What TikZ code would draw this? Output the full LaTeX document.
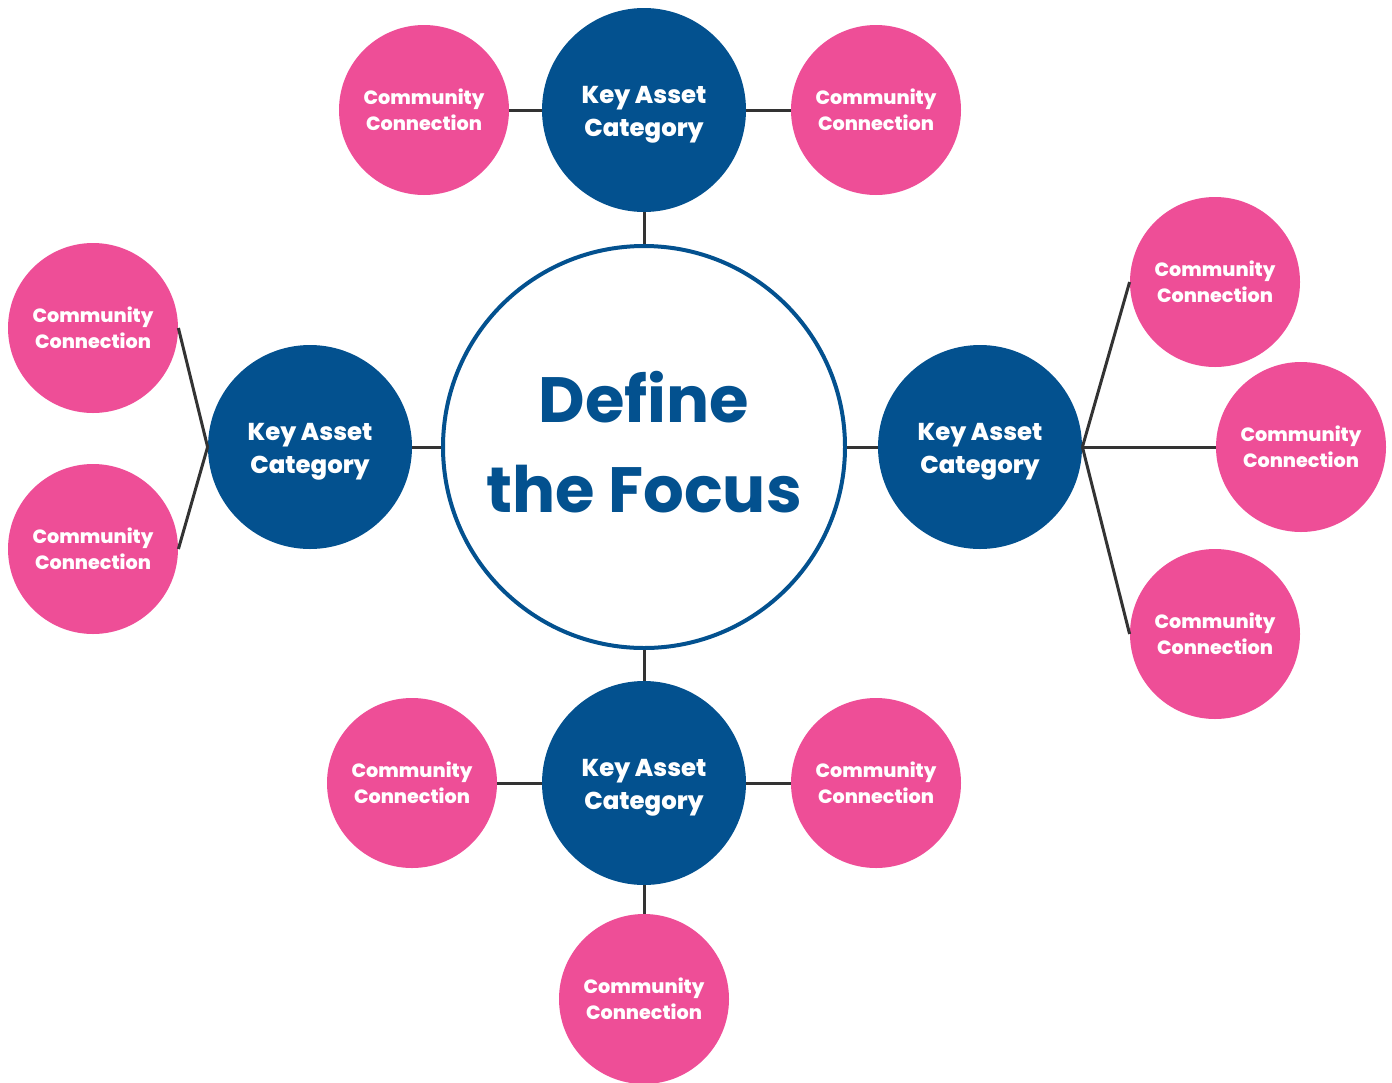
\documentclass[tikz,border=0pt]{standalone}
\usepackage{fontspec}
\setmainfont{Poppins}
\newfontfamily\heavy{Poppins ExtraBold}
\definecolor{pinkc}{HTML}{EE4E97}
\definecolor{bluec}{HTML}{03518F}
\definecolor{linec}{HTML}{333333}
\begin{document}
\begin{tikzpicture}[x=0.5pt,y=-0.5pt,
  keyc/.style={circle,fill=bluec,minimum size=102pt,inner sep=0pt,text=white,align=center,
    font=\heavy\fontsize{12.2}{16.5}\selectfont},
  comm/.style={circle,fill=pinkc,minimum size=85pt,inner sep=0pt,text=white,align=center,
    font=\heavy\fontsize{9.6}{13}\selectfont},
  focus/.style={circle,draw=bluec,line width=2pt,fill=white,minimum size=201pt,inner sep=0pt,
    text=bluec,align=center,font=\bfseries\fontsize{32}{45}\selectfont},
  conn/.style={draw=linec,line width=1.5pt}]
\useasboundingbox (0,0) rectangle (1392,1082);
% nodes
\node[focus] (F) at (644,447) {Define\\the Focus\rule[-5pt]{0pt}{0pt}};
\node[keyc] (KT) at (644,110) {\rule{0pt}{13pt}Key Asset\\Category};
\node[keyc] (KL) at (310,447) {\rule{0pt}{13pt}Key Asset\\Category};
\node[keyc] (KR) at (980,447) {\rule{0pt}{13pt}Key Asset\\Category};
\node[keyc] (KB) at (644,783) {\rule{0pt}{13pt}Key Asset\\Category};
\node[comm] (TL) at (424,110) {Community\\Connection};
\node[comm] (TR) at (876,110) {Community\\Connection};
\node[comm] (LU) at (93,328) {Community\\Connection};
\node[comm] (LD) at (93,549) {Community\\Connection};
\node[comm] (RU) at (1215,282) {Community\\Connection};
\node[comm] (RM) at (1301,447) {Community\\Connection};
\node[comm] (RD) at (1215,634) {Community\\Connection};
\node[comm] (BL) at (412,783) {Community\\Connection};
\node[comm] (BR) at (876,783) {Community\\Connection};
\node[comm] (BB) at (644,999) {Community\\Connection};
% connectors
\draw[conn] (TL.east) -- (KT.west);
\draw[conn] (KT.east) -- (TR.west);
\draw[conn] (KT.south) -- (F.north);
\draw[conn] (LU.east) -- (KL.west);
\draw[conn] (LD.east) -- (KL.west);
\draw[conn] (KL.east) -- (F.west);
\draw[conn] (F.east) -- (KR.west);
\draw[conn] (KR.east) -- (RU.west);
\draw[conn] (KR.east) -- (RM.west);
\draw[conn] (KR.east) -- (RD.west);
\draw[conn] (F.south) -- (KB.north);
\draw[conn] (BL.east) -- (KB.west);
\draw[conn] (KB.east) -- (BR.west);
\draw[conn] (KB.south) -- (BB.north);
\end{tikzpicture}
\end{document}
